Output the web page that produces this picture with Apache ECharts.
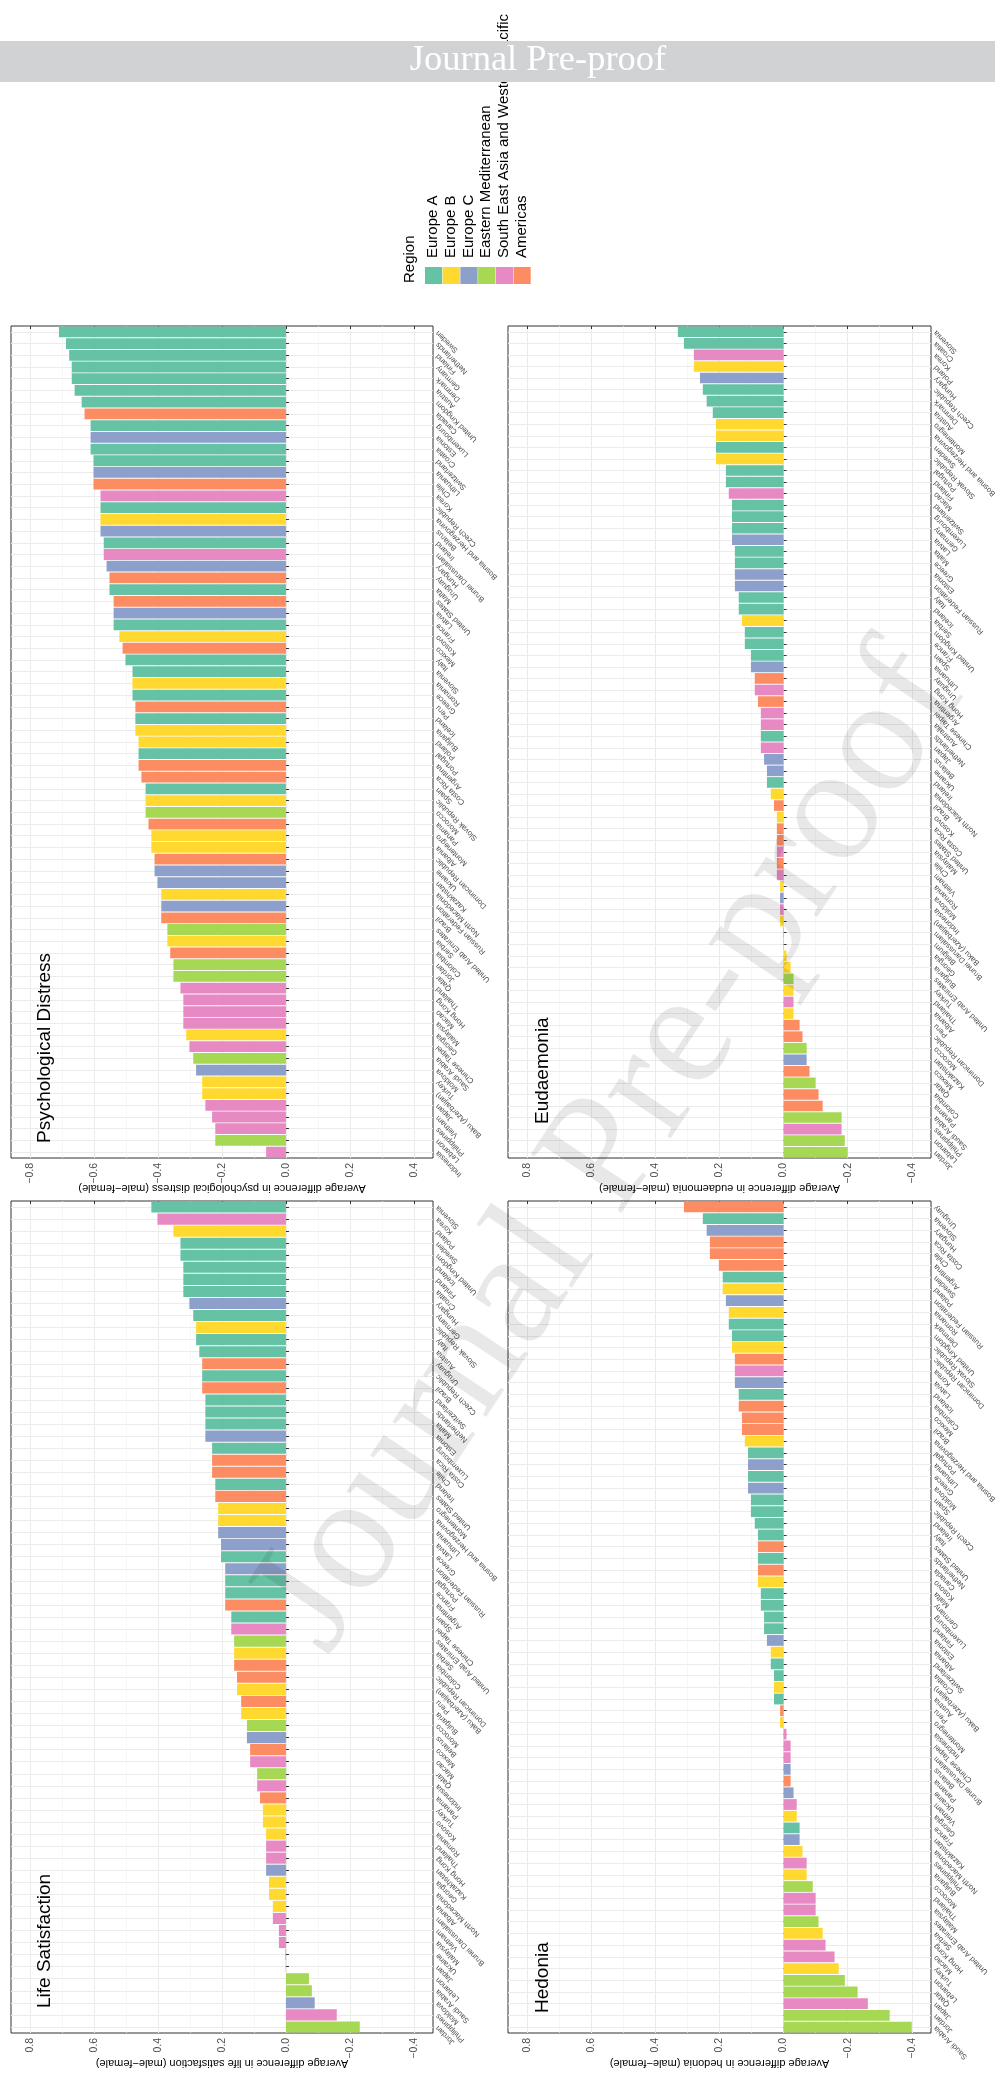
<!DOCTYPE html>
<html><head><meta charset="utf-8">
<script src="https://cdn.jsdelivr.net/npm/echarts@6/dist/echarts.min.js"></script>
<style>html,body{margin:0;padding:0;background:#fff}#c{width:995px;height:2078px}</style>
</head><body><div id="c"></div>
<script>
// ---------------- DATA ----------------
const regionNames = ['Europe A','Europe B','Europe C','Eastern Mediterranean','South East Asia and Western Pacific','Americas'];
const europeA = ['Sweden','Netherlands','Finland','Germany','Denmark','Austria','United Kingdom','Luxembourg','Croatia','Switzerland','Czech Republic','Ireland','Malta','France','Italy','Slovenia','Greece','Iceland','Portugal','Spain','Belgium'];
const europeB = ['Bosnia and Herzegovina','Kosovo','Romania','Bulgaria','Poland','Slovak Republic','Montenegro','Albania','North Macedonia','Serbia','Georgia','Turkey','Baku (Azerbaijan)'];
const europeC = ['Estonia','Lithuania','Belarus','Hungary','Latvia','Ukraine','Kazakhstan','Russian Federation','Moldova'];
const eastMed = ['Morocco','United Arab Emirates','Jordan','Qatar','Saudi Arabia','Lebanon'];
const seaWpac = ['Korea','Brunei Darussalam','Thailand','Hong Kong','Macao','Malaysia','Chinese Taipei','Japan','Vietnam','Philippines','Indonesia','Australia'];
const americas = ['Canada','Chile','Uruguay','United States','Mexico','Peru','Argentina','Costa Rica','Panama','Dominican Republic','Brazil','Colombia'];

const pdCountries = ['Sweden','Netherlands','Finland','Germany','Denmark','Austria','United Kingdom','Canada','Luxembourg','Estonia','Croatia','Switzerland','Lithuania','Chile','Korea','Czech Republic','Bosnia and Herzegovina','Belarus','Ireland','Brunei Darussalam','Hungary','Uruguay','Malta','United States','Latvia','France','Kosovo','Mexico','Italy','Slovenia','Romania','Greece','Peru','Iceland','Bulgaria','Poland','Portugal','Argentina','Costa Rica','Spain','Slovak Republic','Morocco','Panama','Montenegro','Albania','Dominican Republic','Ukraine','Kazakhstan','North Macedonia','Russian Federation','Brazil','United Arab Emirates','Serbia','Colombia','Jordan','Qatar','Thailand','Hong Kong','Macao','Malaysia','Georgia','Chinese Taipei','Saudi Arabia','Moldova','Turkey','Baku (Azerbaijan)','Japan','Vietnam','Philippines','Lebanon','Indonesia'];
const pdValues = [-0.710,-0.688,-0.678,-0.670,-0.670,-0.661,-0.639,-0.630,-0.611,-0.611,
 -0.611,-0.602,-0.602,-0.602,-0.580,-0.580,-0.580,-0.580,-0.570,-0.570,
 -0.561,-0.552,-0.552,-0.539,-0.539,-0.539,-0.521,-0.511,-0.502,-0.480,
 -0.480,-0.480,-0.471,-0.471,-0.471,-0.461,-0.461,-0.461,-0.452,-0.439,
 -0.439,-0.439,-0.430,-0.421,-0.421,-0.411,-0.411,-0.402,-0.390,-0.390,
 -0.390,-0.371,-0.371,-0.362,-0.352,-0.352,-0.330,-0.321,-0.321,-0.321,
 -0.312,-0.302,-0.290,-0.281,-0.262,-0.262,-0.252,-0.231,-0.221,-0.221,
 -0.062];

const eudCountries = ['Slovenia','Croatia','Korea','Poland','Hungary','Czech Republic','Denmark','Austria','Montenegro','Bosnia and Herzegovina','Sweden','Slovak Republic','Portugal','Finland','Macao','Switzerland','Luxembourg','Germany','Latvia','Malta','Greece','Estonia','Russian Federation','Italy','Iceland','Serbia','United Kingdom','France','Spain','Lithuania','Uruguay','Hong Kong','Argentina','Chinese Taipei','Australia','Netherlands','Japan','Belarus','Ukraine','Ireland','North Macedonia','Brazil','Kosovo','Costa Rica','United States','Malaysia','Chile','Vietnam','Romania','Moldova','Indonesia','Baku (Azerbaijan)','Brunei Darussalam','Belgium','Georgia','Bulgaria','United Arab Emirates','Turkey','Thailand','Albania','Peru','Dominican Republic','Morocco','Kazakhstan','Mexico','Qatar','Colombia','Panama','Saudi Arabia','Philippines','Lebanon','Jordan'];
const eudValues = [0.330,0.311,0.280,0.280,0.261,0.252,0.240,0.221,0.211,0.211,
 0.211,0.211,0.180,0.180,0.171,0.161,0.161,0.161,0.161,0.152,
 0.152,0.152,0.152,0.140,0.140,0.130,0.121,0.121,0.102,0.102,
 0.090,0.090,0.080,0.071,0.071,0.071,0.071,0.061,0.052,0.052,
 0.040,0.030,0.021,0.021,0.021,0.021,0.021,0.021,0.011,0.011,
 0.011,0.011,0.002,0.001,-0.009,-0.022,-0.031,-0.031,-0.031,-0.031,
 -0.050,-0.059,-0.072,-0.072,-0.081,-0.100,-0.109,-0.122,-0.181,-0.181,
 -0.191,-0.200];

const lsCountries = ['Slovenia','Korea','Poland','Sweden','United Kingdom','Iceland','Finland','Croatia','Hungary','Germany','Slovak Republic','Italy','Austria','Uruguay','Czech Republic','Brazil','Switzerland','Netherlands','Malta','Estonia','Luxembourg','Costa Rica','Chile','Ireland','United States','Montenegro','Bosnia and Herzegovina','Lithuania','Latvia','Greece','Russian Federation','Portugal','France','Argentina','Spain','Chinese Taipei','United Arab Emirates','Serbia','Colombia','Dominican Republic','Baku (Azerbaijan)','Peru','Bulgaria','Morocco','Belarus','Mexico','Macao','Qatar','Indonesia','Panama','Turkey','Kosovo','Romania','Thailand','Hong Kong','Kazakhstan','Georgia','North Macedonia','Albania','Brunei Darussalam','Vietnam','Malaysia','Ukraine','Japan','Lebanon','Saudi Arabia','Moldova','Philippines','Jordan'];
const lsValues = [0.421,0.402,0.352,0.330,0.330,0.321,0.321,0.321,0.302,0.290,
 0.281,0.281,0.271,0.262,0.262,0.262,0.252,0.252,0.252,0.252,
 0.231,0.231,0.231,0.221,0.221,0.212,0.212,0.212,0.203,0.203,
 0.190,0.190,0.190,0.190,0.171,0.171,0.162,0.162,0.162,0.153,
 0.153,0.140,0.140,0.122,0.122,0.112,0.112,0.090,0.090,0.081,
 0.072,0.072,0.062,0.062,0.062,0.062,0.053,0.053,0.041,0.041,
 0.022,0.022,0.002,0.001,-0.072,-0.081,-0.090,-0.159,-0.231];

const hedCountries = ['Uruguay','Slovenia','Hungary','Costa Rica','Chile','Argentina','Sweden','Poland','Russian Federation','Romania','Denmark','United Kingdom','Slovak Republic','Dominican Republic','Korea','Latvia','Iceland','Colombia','Mexico','Brazil','Bosnia and Herzegovina','Portugal','Lithuania','Greece','Moldova','Spain','Czech Republic','Ireland','Italy','United States','Netherlands','Canada','Kosovo','Malta','Germany','Luxembourg','Finland','Estonia','Albania','Switzerland','Croatia','Baku (Azerbaijan)','Austria','Peru','Montenegro','Indonesia','Chinese Taipei','Brunei Darussalam','Belarus','Panama','Ukraine','Vietnam','Georgia','France','Kazakhstan','North Macedonia','Philippines','Bulgaria','Morocco','Thailand','Malaysia','United Arab Emirates','Serbia','Hong Kong','Macao','Turkey','Lebanon','Qatar','Japan','Jordan','Saudi Arabia'];
const hedValues = [0.311,0.252,0.240,0.230,0.230,0.202,0.190,0.190,0.180,0.171,
 0.171,0.161,0.161,0.152,0.152,0.152,0.140,0.140,0.130,0.130,
 0.121,0.111,0.111,0.111,0.111,0.102,0.102,0.090,0.080,0.080,
 0.080,0.080,0.080,0.071,0.071,0.061,0.061,0.052,0.040,0.040,
 0.030,0.030,0.030,0.011,0.011,-0.009,-0.022,-0.022,-0.022,-0.022,
 -0.031,-0.041,-0.041,-0.050,-0.050,-0.059,-0.072,-0.072,-0.091,-0.100,
 -0.100,-0.109,-0.122,-0.131,-0.159,-0.172,-0.191,-0.231,-0.263,-0.331,-0.400];

const distressTicks = [-0.8,-0.6,-0.4,-0.2,0,0.2,0.4];
const distressMinorTicks = [-0.7,-0.5,-0.3,-0.1,0.1,0.3];
const wellbeingTicks = [-0.4,-0.2,0,0.2,0.4,0.6,0.8];
const wellbeingMinorTicks = [-0.3,-0.1,0.1,0.3,0.5,0.7];

const panelTitles = ['Psychological Distress','Eudaemonia','Life Satisfaction','Hedonia'];
const axisTitles = ['Average difference in psychological distress (male\u2212female)',
  'Average difference in eudaemonia (male\u2212female)',
  'Average difference in life satisfaction (male\u2212female)',
  'Average difference in hedonia (male\u2212female)'];

// ---------------- STYLE / LAYOUT ----------------
const regionColors = ['#66C2A5','#FFD92F','#8DA0CB','#A6D854','#E78AC3','#FC8D62'];
const regionLists = [europeA, europeB, europeC, eastMed, seaWpac, americas];
function colorOf(c){ for (let i=0;i<regionLists.length;i++){ if (regionLists[i].indexOf(c)>=0) return regionColors[i]; } return '#999'; }
const FONT = '"Liberation Sans", Arial, Helvetica, sans-serif';
const SERIF = '"Liberation Serif", "Times New Roman", serif';

const panels = [
  {countries:pdCountries, values:pdValues, ticks:distressTicks, minors:distressMinorTicks, min:-0.86, max:0.46, inverse:false,
   left:11, top:326, width:422, height:832, tx:45, ty:1143},
  {countries:eudCountries, values:eudValues, ticks:wellbeingTicks, minors:wellbeingMinorTicks, min:-0.46, max:0.86, inverse:true,
   left:508, top:326, width:423, height:832, tx:543, ty:1124},
  {countries:lsCountries, values:lsValues, ticks:wellbeingTicks, minors:wellbeingMinorTicks, min:-0.46, max:0.86, inverse:true,
   left:11, top:1201, width:422, height:832, tx:45, ty:2008},
  {countries:hedCountries, values:hedValues, ticks:wellbeingTicks, minors:wellbeingMinorTicks, min:-0.46, max:0.86, inverse:true,
   left:508, top:1201, width:423, height:832, tx:543, ty:2013}
];

function fmt(v){ const a = Math.abs(v); return (v < -1e-9 ? '\u2212' : '') + a.toFixed(1); }

const grid=[], xAxis=[], yAxis=[], series=[], graphic=[];
panels.forEach((p,i)=>{
  const n = p.countries.length;
  const centers = p.countries.map((c,k)=>k+0.5);
  grid.push({left:p.left, top:p.top, width:p.width, height:p.height, show:true, borderColor:'#333333', borderWidth:1,
    backgroundColor:'transparent', containLabel:false, outerBoundsMode:'none'});
  xAxis.push({gridIndex:i, type:'value', position:'bottom', min:p.min, max:p.max, inverse:p.inverse,
    name:axisTitles[i], nameLocation:'middle', nameRotate:180, nameGap:25, nameMoveOverlap:false,
    nameTextStyle:{fontSize:11, color:'#000', fontFamily:FONT},
    axisLine:{show:false},
    axisTick:{show:true, length:3, customValues:p.ticks, lineStyle:{color:'#333333'}},
    axisLabel:{customValues:p.ticks, rotate:90, margin:5, fontSize:10.5, color:'#4D4D4D', fontFamily:FONT, formatter:fmt},
    splitLine:{show:true, lineStyle:{color:'#EBEBEB', width:1}}});
  xAxis.push({gridIndex:i, type:'value', position:'top', min:p.min, max:p.max, inverse:p.inverse,
    axisLine:{show:false}, axisTick:{show:false, customValues:p.minors}, axisLabel:{show:false},
    splitLine:{show:true, lineStyle:{color:'#F2F2F2', width:0.7}}});
  yAxis.push({gridIndex:i, type:'category', data:p.countries, inverse:true, position:'right', boundaryGap:true,
    axisLine:{show:false},
    axisTick:{show:true, alignWithLabel:true, length:3, lineStyle:{color:'#333333'}},
    axisLabel:{interval:0, rotate:135, margin:4, fontSize:7.7, color:'#4D4D4D', fontFamily:FONT},
    splitLine:{show:false}});
  yAxis.push({gridIndex:i, type:'value', position:'left', min:0, max:n, inverse:true,
    axisLine:{show:false}, axisTick:{show:false, customValues:centers}, axisLabel:{show:false},
    splitLine:{show:true, lineStyle:{color:'#EBEBEB', width:1}}});
  series.push({type:'bar', xAxisIndex:2*i, yAxisIndex:2*i, barCategoryGap:'8%', silent:true,
    data:p.values.map((v,k)=>({value:v, itemStyle:{color:colorOf(p.countries[k])}}))});
  graphic.push({type:'text', x:p.tx, y:p.ty, rotation:Math.PI/2, z:20,
    style:{text:panelTitles[i], fontSize:19, fontFamily:FONT, fill:'#000', align:'left', verticalAlign:'middle', textAlign:'left', textVerticalAlign:'middle'}});
});

// legend (rotated, like the reference)
graphic.push({type:'text', x:409.5, y:283, rotation:Math.PI/2, z:10,
  style:{text:'Region', fontSize:15, fontFamily:FONT, fill:'#000', align:'left', verticalAlign:'middle', textAlign:'left', textVerticalAlign:'middle'}});
regionNames.forEach((r,i)=>{
  const bx = 425 + i*17.7;
  graphic.push({type:'rect', shape:{x:bx, y:267, width:17.2, height:17}, style:{fill:regionColors[i]}, z:10});
  graphic.push({type:'text', x:bx+8.1, y:258, rotation:Math.PI/2, z:10,
    style:{text:r, fontSize:15, fontFamily:FONT, fill:'#000', align:'left', verticalAlign:'middle', textAlign:'left', textVerticalAlign:'middle'}});
});

// banner & watermark
graphic.push({type:'rect', shape:{x:0, y:41, width:995, height:41}, style:{fill:'#D1D2D4'}, z:100});
graphic.push({type:'text', x:538, y:60, z:101,
  style:{text:'Journal Pre-proof', fontSize:36.5, fontFamily:SERIF, fill:'#FFFFFF', align:'center', verticalAlign:'middle', textAlign:'center', textVerticalAlign:'middle'}});
graphic.push({type:'text', x:611, y:1150, rotation:56.5*Math.PI/180, z:100,
  style:{text:'Journal Pre-proof', fontSize:165, fontFamily:SERIF, fill:'rgba(0,0,0,0.09)', align:'center', verticalAlign:'middle', textAlign:'center', textVerticalAlign:'middle'}});

const chart = echarts.init(document.getElementById('c'), null, {renderer:'canvas'});
chart.setOption({animation:false, backgroundColor:'#fff', grid, xAxis, yAxis, series, graphic});
</script></body></html>
